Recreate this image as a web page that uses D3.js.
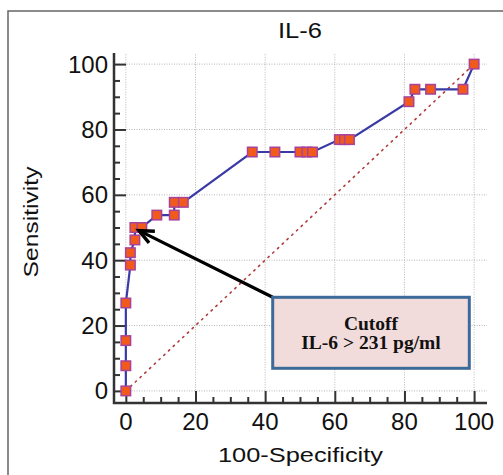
<!DOCTYPE html>
<html lang="en">
<head>
<meta charset="UTF-8">
<title>IL-6 ROC</title>
<script src="https://d3js.org/d3.v7.min.js"></script>
<style>
    body { margin: 0; background: #fff; }
    svg { display: block; }
    text { font-family: "Liberation Sans", Arial, sans-serif; }
</style>
</head>
<body>
<svg width="503" height="475"></svg>
<script>
// ROC points: 100-Specificity (x) and Sensitivity (y)
const fpr  = [0, 0, 0, 0, 1.3, 1.3, 2.6, 2.6, 4.6, 8.9, 13.9, 13.9, 16.5, 36.3, 42.8, 50, 52, 53.6, 61.3, 62.8, 64.2, 81.3, 83, 87.5, 96.8, 100];
const sens = [0, 7.7, 15.4, 26.9, 38.5, 42.3, 46.2, 50, 50, 53.8, 53.8, 57.7, 57.7, 73.1, 73.1, 73.1, 73.1, 73.1, 76.9, 76.9, 76.9, 88.5, 92.3, 92.3, 92.3, 100];
const majorTicks = [0, 20, 40, 60, 80, 100];
const minorTicks = d3.range(0, 101, 5).filter(d => d % 20 !== 0);
const cutoffLines = ["Cutoff", "IL-6 > 231 pg/ml"];
const cutoffPoint = [2.6, 50];

const svg = d3.select("svg");

// outer frame (only top/left visible)
svg.append("path")
    .attr("d", "M8,480 L8,11 L510,11")
    .attr("fill", "none").attr("stroke", "#666").attr("stroke-width", 1.5);

const x = d3.scaleLinear().domain([-3.4, 103.7]).range([114, 487]);
const y = d3.scaleLinear().domain([-3.7, 103.4]).range([403, 53]);

// grid
const grid = svg.append("g").attr("stroke", "#b5b5b5").attr("stroke-width", 1).attr("stroke-dasharray", "1,1.5");
grid.selectAll(".gv").data(majorTicks).join("line")
    .attr("x1", d => x(d)).attr("x2", d => x(d)).attr("y1", y(103)).attr("y2", y(-3.7));
grid.selectAll(".gh").data(majorTicks).join("line")
    .attr("y1", d => y(d)).attr("y2", d => y(d)).attr("x1", x(-3.4)).attr("x2", x(103.7));

// diagonal
svg.append("line")
    .attr("x1", x(0)).attr("y1", y(0)).attr("x2", x(100)).attr("y2", y(100))
    .attr("stroke", "#b03a3a").attr("stroke-width", 1.6)
    .attr("stroke-dasharray", "1.5,5").attr("stroke-linecap", "round");

// axes (ticks point inward)
const axisColor = "#333";
const xAxis = svg.append("g").attr("transform", `translate(0,${y(-3.7)})`);
xAxis.append("g").call(d3.axisTop(x).tickValues(majorTicks).tickSize(12).tickFormat(""));
xAxis.append("g").call(d3.axisTop(x).tickValues(minorTicks).tickSize(6).tickFormat(""));
const yAxis = svg.append("g").attr("transform", `translate(${x(-3.4)},0)`);
yAxis.append("g").call(d3.axisRight(y).tickValues(majorTicks).tickSize(12).tickFormat(""));
yAxis.append("g").call(d3.axisRight(y).tickValues(minorTicks).tickSize(6).tickFormat(""));
svg.selectAll(".domain").remove();
svg.selectAll(".tick line").attr("stroke", axisColor).attr("stroke-width", 2);
svg.append("path")
    .attr("d", `M${x(-3.4)},${y(103.4)}V${y(-3.7)}H${x(103.7)}`)
    .attr("fill", "none").attr("stroke", axisColor).attr("stroke-width", 2.5);

// tick labels
svg.append("g").selectAll("text").data(majorTicks).join("text")
    .attr("x", d => x(d)).attr("y", 430).attr("text-anchor", "middle")
    .attr("font-size", 24).attr("fill", "#111").text(d => d);
svg.append("g").selectAll("text").data(majorTicks).join("text")
    .attr("x", 108).attr("y", d => y(d) + 8.5).attr("text-anchor", "end")
    .attr("font-size", 24).attr("fill", "#111").text(d => d);

// titles
svg.append("text").attr("x", 300).attr("y", 38).attr("text-anchor", "middle")
    .attr("font-size", 22).attr("textLength", 44).attr("lengthAdjust", "spacingAndGlyphs").attr("fill", "#111").text("IL-6");
svg.append("text").attr("x", 300.5).attr("y", 462).attr("text-anchor", "middle")
    .attr("font-size", 20).attr("textLength", 165).attr("lengthAdjust", "spacingAndGlyphs").attr("fill", "#111").text("100-Specificity");
svg.append("text").attr("transform", "translate(38,222) rotate(-90)").attr("text-anchor", "middle")
    .attr("font-size", 21).attr("textLength", 111).attr("lengthAdjust", "spacingAndGlyphs").attr("fill", "#111").text("Sensitivity");

// ROC curve
const pts = fpr.map((d, i) => [d, sens[i]]);
svg.append("path").datum(pts)
    .attr("fill", "none").attr("stroke", "#3a3aa6").attr("stroke-width", 2.2)
    .attr("d", d3.line().x(d => x(d[0])).y(d => y(d[1])));
const ms = 9.5;
svg.append("g").selectAll("rect").data(pts).join("rect")
    .attr("x", d => x(d[0]) - ms / 2).attr("y", d => y(d[1]) - ms / 2)
    .attr("width", ms).attr("height", ms)
    .attr("fill", "#f25a1c").attr("stroke", "#a8439a").attr("stroke-width", 1.5);

// annotation arrow
const box = {x0: 272.7, y0: 297.3, x1: 469.3, y1: 368.3};
const tipX = x(cutoffPoint[0]) + 4, tipY = y(cutoffPoint[1]) + 3;
const ang = Math.atan2(box.y0 - tipY, box.x0 - tipX);
svg.append("line").attr("x1", box.x0).attr("y1", box.y0).attr("x2", tipX + 3 * Math.cos(ang)).attr("y2", tipY + 3 * Math.sin(ang))
    .attr("stroke", "#000").attr("stroke-width", 3.2);
const ah = 16, spread = 0.42;
svg.append("path")
    .attr("d", `M${tipX + ah * Math.cos(ang - spread)},${tipY + ah * Math.sin(ang - spread)} L${tipX},${tipY} L${tipX + ah * Math.cos(ang + spread)},${tipY + ah * Math.sin(ang + spread)}`)
    .attr("fill", "none").attr("stroke", "#000").attr("stroke-width", 3.4).attr("stroke-linejoin", "miter");

// annotation box
svg.append("rect").attr("x", box.x0).attr("y", box.y0)
    .attr("width", box.x1 - box.x0).attr("height", box.y1 - box.y0)
    .attr("fill", "#f2dcdb").attr("stroke", "#3d6a99").attr("stroke-width", 3);
svg.append("g").selectAll("text").data(cutoffLines).join("text")
    .attr("x", (box.x0 + box.x1) / 2).attr("y", (d, i) => 329.5 + i * 19.5)
    .attr("text-anchor", "middle").attr("font-size", 19.5).attr("font-weight", "bold")
    .style("font-family", "'Liberation Serif', 'Times New Roman', serif").attr("fill", "#111")
    .text(d => d);
</script>
</body>
</html>
